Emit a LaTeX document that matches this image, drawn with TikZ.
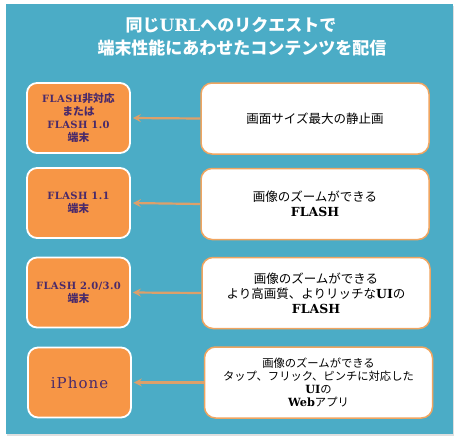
\documentclass[tikz,border=0pt]{standalone}
\usepackage{fontspec}
\setmainfont{DejaVu Serif}
\newfontfamily\cjk{Noto Sans CJK JP}
\newfontfamily\devlat{DejaVu Serif}[LetterSpace=4]
\newfontfamily\phonefont{DejaVu Serif}[LetterSpace=7]
\newcommand\devcjk{\cjk\fontsize{10.8}{13}\selectfont}
\usetikzlibrary{arrows.meta,shadows}
\definecolor{panelblue}{HTML}{4BACC6}
\definecolor{boxorange}{HTML}{F79646}
\definecolor{edgeorange}{HTML}{F0A560}
\definecolor{arrowcol}{HTML}{DDA06A}
\definecolor{devtext}{HTML}{4A2A6A}
\tikzset{
  panel/.style={fill=panelblue,draw=none,drop shadow={opacity=0.25,shadow xshift=1pt,shadow yshift=-1.5pt}},
  devbox/.style={fill=boxorange,draw=white,line width=1.8pt,rounded corners=10pt,
    minimum width=103pt,minimum height=70pt,align=center,text=devtext,inner sep=2pt,
    font=\devlat\bfseries\fontsize{10}{13}\selectfont},
  featbox/.style={fill=white,draw=edgeorange,line width=1.5pt,rounded corners=11pt,
    minimum width=228pt,minimum height=71pt,align=center,text=black,inner sep=2pt,
    font=\fontsize{12.5}{15}\selectfont},
  titletext/.style={text=white,font=\bfseries\fontsize{17}{20}\selectfont,inner sep=0pt},
  flow/.style={draw=arrowcol,line width=2.2pt,-{Stealth[length=8pt,width=8pt,inset=3pt]},shorten >=2pt}
}
\begin{document}
\begin{tikzpicture}[x=1pt,y=-1pt]
\useasboundingbox (0,0) rectangle (459,442);
\fill[white] (0,0) rectangle (459,442);
\path[panel] (6,4) rectangle (453,434);
\node[titletext] (title1) at (231,25) {{\cjk 同じ}URL{\cjk へのリクエストで}};
\node[titletext] (title2) at (242,48) {{\cjk 端末性能にあわせたコンテンツを配信}};

\node[devbox] (d1) at (78.5,118) {FLASH{\devcjk 非対応}\\{\devcjk または}\\FLASH 1.0\\{\devcjk 端末}};
\node[devbox] (d2) at (78.5,203) {FLASH 1.1\\{\devcjk 端末}};
\node[devbox] (d3) at (78.5,292.5) {FLASH 2.0/3.0\\{\devcjk 端末}};
\node[devbox,font=\phonefont\fontsize{15}{18}\selectfont] (d4) at (79.5,382.5) {iPhone};

\node[featbox] (f1) at (315,118.5) {{\cjk 画面サイズ最大の静止画}};
\node[featbox] (f2) at (315,204) {{\cjk 画像のズームができる}\\\textbf{FLASH}};
\node[featbox] (f3) at (316,293) {{\cjk 画像のズームができる}\\{\cjk より高画質、よりリッチな}\textbf{UI}{\cjk の}\\\textbf{FLASH}};
\node[featbox,font=\fontsize{11.3}{13}\selectfont] (f4) at (318.5,382.5) {{\cjk 画像のズームができる}\\{\cjk タップ、フリック、ピンチに対応した}\\\textbf{UI}{\cjk の}\\\textbf{Web}{\cjk アプリ}};

\draw[flow] (f1.west) -- (d1.east);
\draw[flow] (f2.west) -- (d2.east);
\draw[flow] (f3.west) -- (d3.east);
\draw[flow] (f4.west) -- (d4.east);
\end{tikzpicture}
\end{document}
